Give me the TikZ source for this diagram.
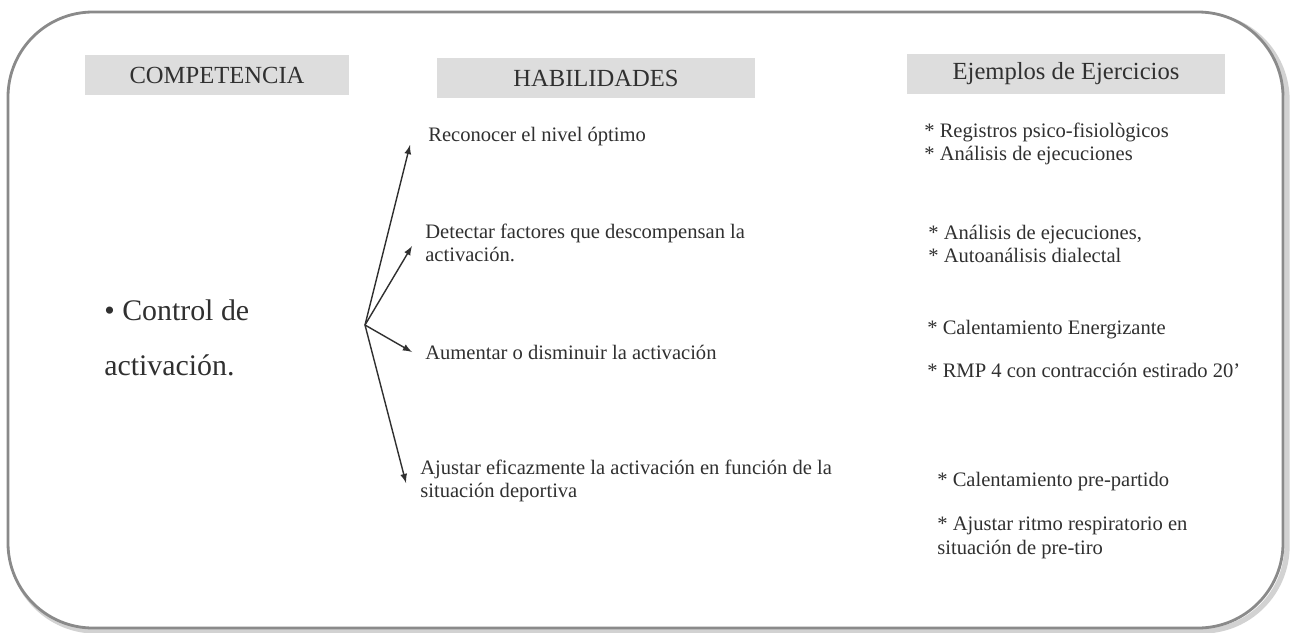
\documentclass[tikz,border=0pt]{standalone}
\usepackage{fontspec}
\setmainfont{Liberation Serif}
\usetikzlibrary{positioning}

\definecolor{griscaja}{HTML}{DDDDDD}
\definecolor{grismarco}{HTML}{8A8A8A}
\definecolor{tinta}{HTML}{303030}

\tikzset{
  cabecera/.style={fill=griscaja,text=tinta,font=\fontsize{14}{16}\selectfont,
    minimum height=0.8cm,inner sep=0pt},
  hab/.style={anchor=west,align=left,text=tinta,inner sep=0pt,
    font=\fontsize{11.7}{13}\selectfont},
  ej/.style={anchor=west,align=left,text=tinta,inner sep=0pt,
    font=\fontsize{11.7}{13}\selectfont},
}

\begin{document}
\begin{tikzpicture}[x=0.02cm,y=-0.02cm]
      \useasboundingbox (0,0) rectangle (1293,632);

      % marco
      \draw[line width=3pt,gray!35,rounded corners=1.7cm] (11,15) rectangle (1287,631);
      \draw[line width=1.6pt,grismarco,fill=white,rounded corners=1.7cm] (8,12) rectangle (1283,628);

      % cabeceras
      \node[cabecera,minimum width=5.3cm] (comp) at (217,75) {COMPETENCIA};
      \node[cabecera,minimum width=6.36cm] (habil) at (596,78) {HABILIDADES};
      \node[cabecera,minimum width=6.36cm] (ejem) at (1066,74) {Ejemplos de Ejercicios};

      % competencia
      \node[anchor=west,align=left,text=tinta,inner sep=0pt,
        font=\fontsize{17}{31}\selectfont] (ctrl) at (104,338)
        {\textbullet\ Control de\\activación.};

      % habilidades
      \begin{scope}[every node/.style={hab}]
        \node (h1) at (428,137) {Reconocer el nivel óptimo};
        \node (h2) at (425,243) {Detectar factores que descompensan la\\activación.};
        \node (h3) at (425,352) {Aumentar o disminuir la activación};
        \node (h4) at (420,481) {Ajustar eficazmente la activación en función de la\\situación deportiva};
      \end{scope}

      % ejemplos
      \begin{scope}[every node/.style={ej}]
        \node (e1) at (924,144) {* Registros psico-fisiològicos\\* Análisis de ejecuciones};
        \node (e2) at (928,244) {* Análisis de ejecuciones,\\* Autoanálisis dialectal};
        \node (e3) at (927,330) {* Calentamiento Energizante};
        \node (e4) at (927,370) {* RMP 4 con contracción estirado 20'};
        \node (e5) at (937,482) {* Calentamiento pre-partido};
        \node[font=\fontsize{11.7}{13.5}\selectfont] (e6) at (937,538) {* Ajustar ritmo respiratorio en\\situación de pre-tiro};
      \end{scope}

      % flechas
      \coordinate (raiz) at (365,325);
      \begin{scope}[->,>=latex,line width=0.8pt,tinta]
        \draw (raiz) -- ([xshift=-0.36cm,yshift=-0.16cm]h1.west);
        \draw (raiz) -- ([xshift=-0.26cm,yshift=-0.06cm]h2.west);
        \draw (raiz) -- ([xshift=-0.26cm]h3.west);
        \draw (raiz) -- ([xshift=-0.28cm,yshift=-0.04cm]h4.west);
      \end{scope}

    \end{tikzpicture}
\end{document}
